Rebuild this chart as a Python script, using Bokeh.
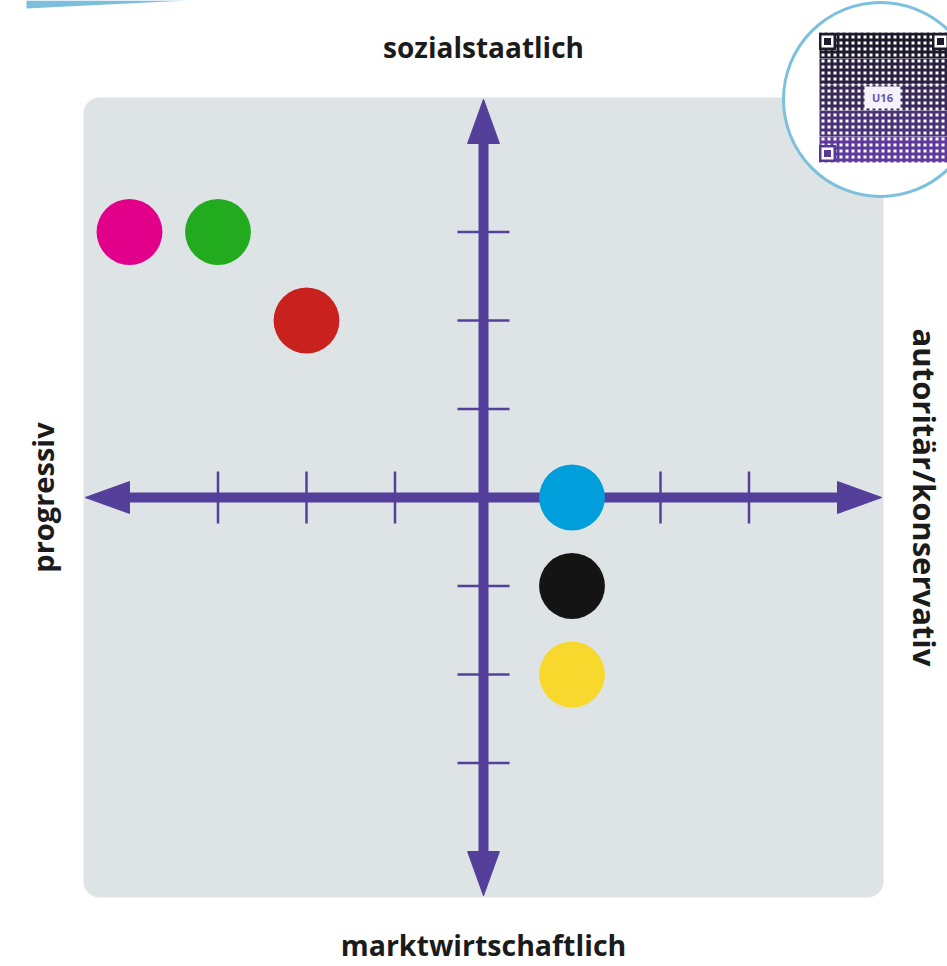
import math
from bokeh.plotting import figure
from bokeh.models import Label
from bokeh.core.properties import value
from bokeh.embed import file_html
from bokeh.resources import INLINE

# ---- data ----
party_x = [-4, -3, -2, 1, 1, 1]
party_y = [3, 3, 2, 0, -1, -2]
party_colors = ["#e2008a", "#22ab1f", "#c8211e", "#009fdc", "#141414", "#f8d82d"]
tick_values = [-3, -2, -1, 1, 2, 3]
label_top = "sozialstaatlich"
label_bottom = "marktwirtschaftlich"
label_left = "progressiv"
label_right = "autoritär/konservativ"

# ---- geometry (data units; 1 unit = 88.5 px) ----
U = 88.5
CX, CY = 483, 497          # picture pixel of origin
OFF = 0
W, H = 947, 966
def dx(px): return (px - CX) / U
def dy(py): return (CY - py) / U

AX = 4.5                   # axis half extent
HL, HW = 0.5, 0.18         # arrow head length / half width
TL = 0.294                 # tick half length
PURPLE = "#54409b"
TEXT = "#1b1b1b"
FONT = "Open Sans"

p = figure(width=W, height=H, output_backend="svg", toolbar_location=None,
           x_range=(dx(OFF), dx(OFF + W)), y_range=(dy(OFF + H), dy(OFF)),
           min_border=0, tools="")
p.axis.visible = False
p.grid.visible = False
p.outline_line_color = None
p.background_fill_color = "white"
p.border_fill_color = "white"

# decorative corner stripe
p.patch(x=[dx(26), dx(188), dx(26)], y=[dy(0), dy(0), dy(8)], fill_color="#7cbfdd",
        line_color=None)

# grey rounded panel
p.quad(left=-4.52, right=4.52, bottom=-4.52, top=4.52, fill_color="#dee3e6",
       line_color=None, border_radius=16)

# axis shafts
p.segment(x0=[-AX + HL, 0], y0=[0, -AX + HL], x1=[AX - HL, 0], y1=[0, AX - HL],
          line_color=PURPLE, line_width=10)
# ticks
p.segment(x0=tick_values, y0=[-TL] * 6, x1=tick_values, y1=[TL] * 6,
          line_color=PURPLE, line_width=2.5)
p.segment(x0=[-TL] * 6, y0=tick_values, x1=[TL] * 6, y1=tick_values,
          line_color=PURPLE, line_width=2.5)
# arrow heads
heads_x = [[-AX, -AX + HL, -AX + HL], [AX, AX - HL, AX - HL],
           [0, -HW, HW], [0, -HW, HW]]
heads_y = [[0, HW, -HW], [0, HW, -HW],
           [AX, AX - HL, AX - HL], [-AX, -AX + HL, -AX + HL]]
p.patches(xs=heads_x, ys=heads_y, fill_color=PURPLE, line_color=PURPLE, line_width=1)

# parties
p.circle(x=party_x, y=party_y, radius=0.372, fill_color=party_colors, line_color=None)

# axis labels
p.add_layout(Label(x=0, y=dy(46), text=label_top, text_align="center",
                   text_baseline="middle", text_font=FONT, text_font_style="bold",
                   text_font_size="28px", text_color=TEXT))
p.add_layout(Label(x=0, y=dy(944), text=label_bottom, text_align="center",
                   text_baseline="middle", text_font=FONT, text_font_style="bold",
                   text_font_size="28.5px", text_color=TEXT))
p.add_layout(Label(x=dx(42), y=0, text=label_left, text_align="center",
                   text_baseline="middle", angle=math.pi / 2, text_font=FONT,
                   text_font_style="bold", text_font_size="29px", text_color=TEXT))
p.add_layout(Label(x=dx(924), y=0, text=label_right, text_align="center",
                   text_baseline="middle", angle=-math.pi / 2, text_font=FONT,
                   text_font_style="bold", text_font_size="31px", text_color=TEXT))

# QR badge decoration
p.circle(x=dx(880), y=dy(99), radius=97 / U, fill_color="white",
         line_color="#7cc0dd", line_width=3)
band_cols = ["#1d1a2b", "#2a2140", "#392a5a", "#4a3278", "#5f3a9e"]
nb = len(band_cols)
qt, qb = 32, 162
for i, c in enumerate(band_cols):
    t = qt + (qb - qt) * i / nb
    b = qt + (qb - qt) * (i + 1) / nb
    p.quad(left=dx(819), right=dx(960), top=dy(t), bottom=dy(b), fill_color="white",
           line_color=None, hatch_pattern="cross", hatch_color=c,
           hatch_scale=6, hatch_weight=3)
fx = [dx(827), dx(940), dx(827)]
fy = [dy(41), dy(41), dy(153)]
fc = ["#1d1a2b", "#1d1a2b", "#5a3896"]
p.rect(x=fx, y=fy, width=17, height=17, width_units="screen", height_units="screen",
       fill_color=fc, line_color=None)
p.rect(x=fx, y=fy, width=12, height=12, width_units="screen", height_units="screen",
       fill_color="white", line_color=None)
p.rect(x=fx, y=fy, width=7, height=7, width_units="screen", height_units="screen",
       fill_color=fc, line_color=None)
p.rect(x=[dx(882)], y=[dy(97)], width=36, height=22, width_units="screen",
       height_units="screen", fill_color="#f4f2f8", line_color=None)
p.text(x=[dx(882)], y=[dy(97)], text=["U16"], text_align="center", text_baseline="middle",
       text_font=value(FONT), text_font_size="11px", text_font_style="bold",
       text_color="#6a52b0")

open("out.html", "w").write(file_html(p, INLINE))
